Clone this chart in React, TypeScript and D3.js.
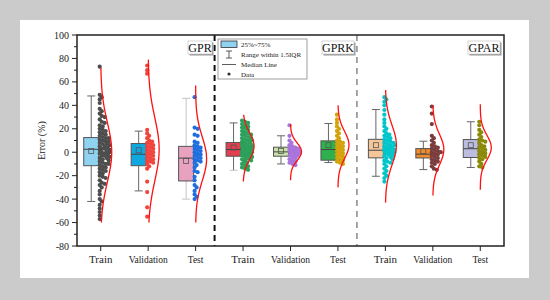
import React from 'react';
import * as d3 from 'd3';

// x tick labels (3 models x 3 subsets)
const categories = ['Train', 'Validation', 'Test', 'Train', 'Validation', 'Test', 'Train', 'Validation', 'Test'];
const models = ['GPR', 'GPRK', 'GPAR'];
const yTicks = [100, 80, 60, 40, 20, 0, -20, -40, -60, -80];

// box statistics
const q1 = [-11.5, -11.5, -24.5, -3.4, -3.4, -6.8, -4.8, -4.9, -4.5];
const q3 = [12.5, 7.4, 5, 8.3, 4.3, 9.7, 11, 3.1, 10.8];
const medians = [2.5, -1.7, -5, 2.3, 0.3, 2.3, 1.7, -1.7, 3];
const means = [1, 1.7, -7.4, 4, 1, 6, 6, 0.9, 6];
const whiskLo = [-42, -33, -40, -15.4, -10, -8.8, -20.5, -14.8, -13];
const whiskHi = [48, 18, 46, 25, 14, 24.5, 36.4, 9.4, 26];
// extent of the red distribution curves
const curveLo = [-60, -60, -60, -25, -24, -30, -43, -37, -32];
const curveHi = [72, 79, 57, 32, 24, 40, 53, 40, 41];

// error points of each group
const gprTrain = [73, 49, 47, 45, 42, 37, 35, 33, 31, 30, 28, 26, 25, 23, 22, 20, 19, 18, 17, 16, 15, 14, 13, 12, 12, 11, 10, 9, 9, 8, 7, 7, 6, 5, 5, 4, 3, 3, 2, 2, 1, 0, 0, -1, -1, -2, -3, -3, -4, -5, -5, -6, -7, -8, -9, -10, -10, -11, -12, -13, -14, -15, -16, -17, -18, -20, -21, -22, -24, -26, -27, -28, -30, -33, -36, -40, -42, -45, -48, -51, -54, -57];
const gprVal = [74, 70, 67, 19, 16, 14, 12, 10, 9, 8, 7, 6, 5, 4, 3, 2, 1, 0, -1, -2, -3, -4, -5, -6, -7, -8, -9, -10, -12, -14, -25, -34, -47, -55];
const gprTest = [47, 21, 20, 15, 14, 9, 8, 6, 5, 4, 3, 2, 1, 0, -1, -2, -3, -4, -5, -6, -7, -8, -9, -11, -13, -16, -17, -21, -24, -28, -30, -33, -36, -38, -40];
const gprkTrain = [27, 26, 25, 24, 23, 22, 21, 20, 19, 18, 17, 16, 15, 15, 14, 13, 12, 12, 11, 10, 10, 9, 8, 8, 7, 7, 6, 6, 5, 5, 4, 4, 3, 3, 2, 2, 1, 1, 0, 0, -1, -1, -2, -2, -3, -3, -4, -4, -5, -6, -6, -7, -8, -9, -10, -11, -12, -13, -14, -15];
const gprkVal = [23, 14, 10, 8, 6, 5, 4, 3, 3, 2, 2, 1, 1, 0, 0, -1, -1, -2, -3, -3, -4, -5, -6, -7, -8, -9, -10, -11];
const gprkTest = [32, 28, 25, 22, 20, 18, 16, 14, 12, 10, 9, 8, 7, 6, 5, 4, 3, 2, 1, 0, -1, -2, -3, -4, -5, -6, -7, -8, -9, -10];
const gparTrain = [47, 45, 43, 40, 36, 32, 28, 25, 22, 20, 18, 16, 15, 14, 13, 12, 11, 10, 9, 8, 8, 7, 6, 6, 5, 4, 4, 3, 3, 2, 2, 1, 1, 0, 0, -1, -1, -2, -3, -3, -4, -5, -6, -7, -8, -9, -10, -12, -14, -16, -18, -20, -22, -25];
const gparVal = [39, 33, 24, 14, 12, 10, 8, 6, 5, 4, 3, 2, 1, 0, 0, -1, -2, -3, -4, -5, -6, -7, -8, -9, -10, -12, -14, -15];
const gparTest = [26, 23, 19, 17, 15, 13, 11, 10, 9, 8, 6, 5, 4, 3, 2, 1, 0, -1, -2, -3, -4, -5, -6, -8, -10, -12, -13];

const groups = [gprTrain, gprVal, gprTest, gprkTrain, gprkVal, gprkTest, gparTrain, gparVal, gparTest];

const boxFill = ['#8fd3f0', '#10a8e0', '#e8a2c0', '#e0404f', '#c8e2a8', '#2eb04e', '#f5c69a', '#f08a2a', '#bcbde0'];
const dotFill = ['#4d4d4d', '#f0443c', '#1f6fe0', '#2ca05a', '#a874dc', '#d4a20a', '#00c6cc', '#7a3c3c', '#8a8a08'];

const FONT = '"Liberation Serif", "DejaVu Serif", serif';

const M = { left: 77, right: 504, top: 35, bottom: 246 };

// pack points to the right of the tick, beeswarm style
function swarm(ys: number[], r: number, maxW: number): number[] {
  const placed: { x: number; y: number }[] = [];
  const out: number[] = [];
  ys.forEach((y) => {
    let best = -1;
    let bestD = -1;
    for (let x = -1; x <= maxW; x += 1) {
      let minD = Infinity;
      placed.forEach((p) => {
        if (Math.abs(p.y - y) < 2 * r) minD = Math.min(minD, Math.hypot(p.x - x, p.y - y));
      });
      if (minD >= 2 * r * 0.7) { best = x; bestD = Infinity; break; }
      if (minD > bestD) { bestD = minD; best = x; }
    }
    placed.push({ x: best, y });
    out.push(best);
  });
  return out;
}

export default function App() {
  const x = d3.scaleLinear().domain([0.5, 9.5]).range([M.left, M.right]);
  const y = d3.scaleLinear().domain([-80, 100]).range([M.bottom, M.top]);
  const minor = d3.range(-70, 100, 20);
  const r = 2.1;
  const bw = 15;

  const curve = (i: number) => {
    const vals = groups[i];
    const mu = d3.mean(vals) as number;
    const sd = d3.deviation(vals) as number;
    const pts = d3.range(0, 61).map((k) => curveLo[i] + (k / 60) * (curveHi[i] - curveLo[i]));
    const dens = pts.map((v) => Math.exp(-0.5 * ((v - mu) / sd) ** 2));
    const peak = d3.max(dens) as number;
    const w = d3.scaleLinear().domain([0, peak]).range([0, 11]);
    const line = d3.line<number>()
      .x((_, k) => x(i + 1) + w(dens[k]))
      .y((v) => y(v))
      .curve(d3.curveBasis);
    return line(pts) || '';
  };

  const labelBox = (text: string, x0: number, w: number) => (
    <g key={text}>
      <rect x={x0 + 1.5} y={42.5} width={w} height={13} fill="#9a9a9a" />
      <rect x={x0} y={41} width={w} height={13} fill="#fff" stroke="#bbb" strokeWidth={0.6} />
      <text x={x0 + w / 2} y={51.5} textAnchor="middle" fontSize={12} fontFamily={FONT} fill="#111">{text}</text>
    </g>
  );

  return (
    <svg width={550} height={300} style={{ position: 'fixed', left: 0, top: 0 }}>
      <rect x={0} y={0} width={550} height={300} fill="#cbcbcb" />
      <rect x={20} y={20} width={509} height={258} fill="#fff" />

      {/* boxes, whiskers */}
      {groups.map((_, i) => {
        const cx = x(i + 1) - 9.5;
        const wc = i === 2 ? '#c4c4c4' : '#666';
        return (
          <g key={'b' + i}>
            <line x1={cx} x2={cx} y1={y(whiskHi[i])} y2={y(q3[i])} stroke={wc} strokeWidth={1} />
            <line x1={cx} x2={cx} y1={y(q1[i])} y2={y(whiskLo[i])} stroke={wc} strokeWidth={1} />
            <line x1={cx - 4} x2={cx + 4} y1={y(whiskHi[i])} y2={y(whiskHi[i])} stroke={wc} strokeWidth={1} />
            <line x1={cx - 4} x2={cx + 4} y1={y(whiskLo[i])} y2={y(whiskLo[i])} stroke={i === 3 ? '#c4c4c4' : wc} strokeWidth={1} />
            <rect x={cx - bw / 2} y={y(q3[i])} width={bw} height={y(q1[i]) - y(q3[i])} fill={boxFill[i]} stroke="#555" strokeWidth={1} />
            <line x1={cx - bw / 2} x2={cx + bw / 2} y1={y(medians[i])} y2={y(medians[i])} stroke="#444" strokeWidth={1} />
            <rect x={cx - 2.5} y={y(means[i]) - 2.5} width={5} height={5} fill="none" stroke="#555" strokeWidth={0.8} />
          </g>
        );
      })}

      {/* data points */}
      {groups.map((vals, i) => {
        const ys = vals.map((v) => y(v));
        const off = swarm(ys, r, 9);
        return (
          <g key={'p' + i} fill={dotFill[i]}>
            {ys.map((yy, k) => (
              <circle key={k} cx={x(i + 1) + off[k]} cy={yy} r={r} />
            ))}
          </g>
        );
      })}

      {/* distribution curves */}
      {groups.map((_, i) => (
        <path key={'c' + i} d={curve(i)} fill="none" stroke="#ff1010" strokeWidth={1.3} />
      ))}

      {/* model dividers */}
      <line x1={x(3.4)} x2={x(3.4)} y1={M.top} y2={M.bottom} stroke="#111" strokeWidth={2} strokeDasharray="6,4" />
      <line x1={x(6.4)} x2={x(6.4)} y1={M.top} y2={M.bottom} stroke="#888" strokeWidth={1.5} strokeDasharray="6,5" />

      {labelBox(models[0], 188, 24)}
      {labelBox(models[1], 322, 32)}
      {labelBox(models[2], 468, 32)}

      {/* legend */}
      <g fontFamily={FONT} fontSize={7} fill="#222">
        <rect x={218} y={39} width={89} height={40} fill="#fff" stroke="#888" strokeWidth={0.8} />
        <rect x={221} y={41} width={16} height={6.5} fill={boxFill[0]} stroke="#333" strokeWidth={0.8} />
        <text x={241} y={47}>25%~75%</text>
        <line x1={229} x2={229} y1={51} y2={58} stroke="#333" strokeWidth={0.8} />
        <line x1={226} x2={232} y1={51} y2={51} stroke="#333" strokeWidth={0.8} />
        <line x1={226} x2={232} y1={58} y2={58} stroke="#333" strokeWidth={0.8} />
        <text x={241} y={57}>Range within 1.5IQR</text>
        <line x1={222} x2={236} y1={64.5} y2={64.5} stroke="#333" strokeWidth={0.8} />
        <text x={241} y={67}>Median Line</text>
        <circle cx={229} cy={74} r={1.6} fill="#333" />
        <text x={241} y={76.5}>Data</text>
      </g>

      {/* frame */}
      <rect x={M.left} y={M.top} width={M.right - M.left} height={M.bottom - M.top} fill="none" stroke="#222" strokeWidth={1.5} />

      {/* y axis */}
      <g fontFamily={FONT} fontSize={10} fill="#222">
        {yTicks.map((t) => (
          <g key={t}>
            <line x1={M.left - 5} x2={M.left} y1={y(t)} y2={y(t)} stroke="#222" strokeWidth={1} />
            <text x={M.left - 8} y={y(t) + 3.5} textAnchor="end">{t}</text>
          </g>
        ))}
        {minor.map((t) => (
          <line key={'m' + t} x1={M.left - 3} x2={M.left} y1={y(t)} y2={y(t)} stroke="#222" strokeWidth={1} />
        ))}
        <text transform={`translate(45,${(M.top + M.bottom) / 2}) rotate(-90)`} textAnchor="middle" fontSize={10}>Error (%)</text>
      </g>

      {/* x axis */}
      <g fontFamily={FONT} fill="#222">
        {categories.map((c, i) => (
          <g key={'x' + i}>
            <line x1={x(i + 1)} x2={x(i + 1)} y1={M.bottom} y2={M.bottom + 5} stroke="#222" strokeWidth={1} />
            <text x={x(i + 1)} y={263} textAnchor="middle" fontSize={c === 'Train' ? 11 : 9.5}>{c}</text>
          </g>
        ))}
      </g>
    </svg>
  );
}
